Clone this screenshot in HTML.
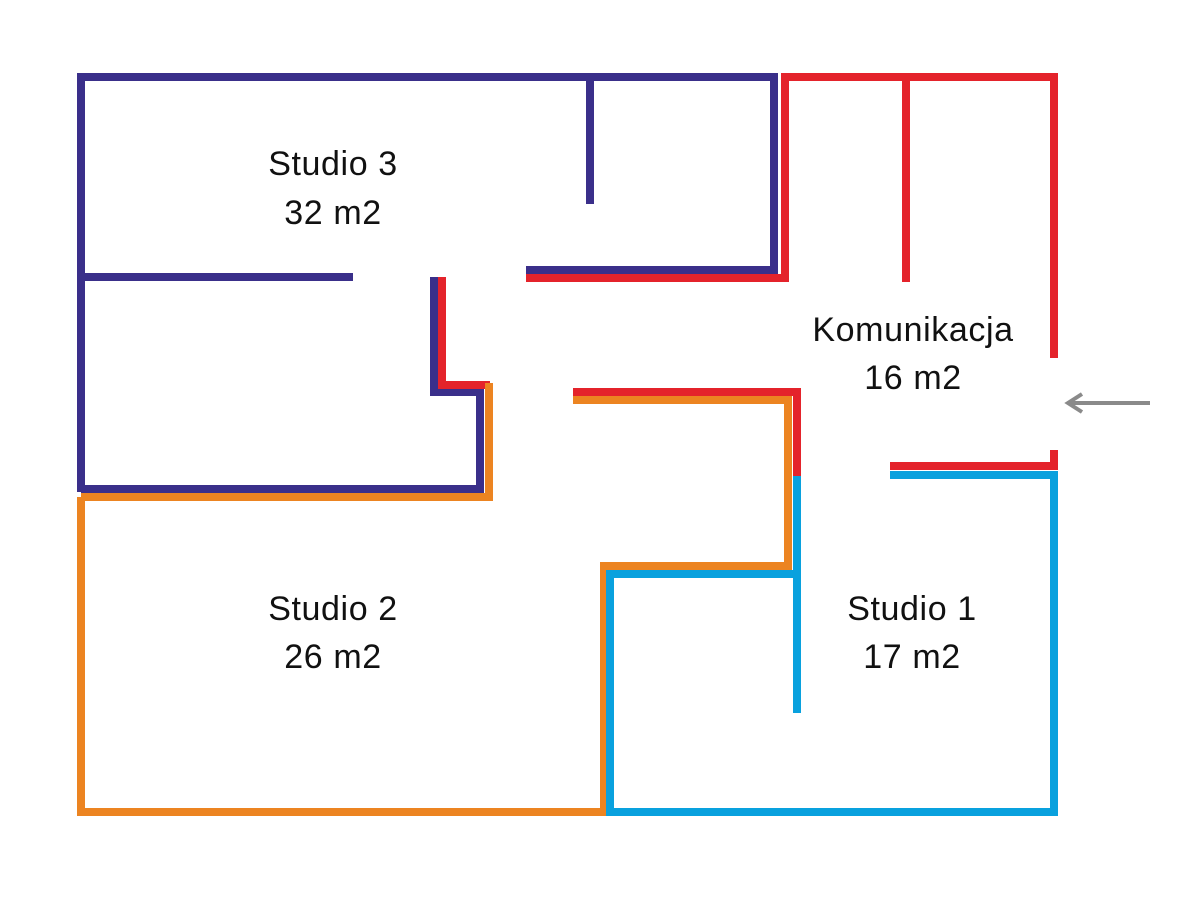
<!DOCTYPE html>
<html><head><meta charset="utf-8"><style>
html,body{margin:0;padding:0;background:#fff;width:1200px;height:900px;overflow:hidden}
text{font-family:"Liberation Sans",sans-serif;font-size:34px;letter-spacing:0.6px;fill:#111;text-anchor:middle}
</style></head><body>
<svg width="1200" height="900" viewBox="0 0 1200 900" xmlns="http://www.w3.org/2000/svg">
<g fill="none" stroke-width="8" stroke-linecap="butt" stroke-linejoin="miter">
<g stroke="#3a2f8a">
<path d="M81 492 V77 H774 V270 H526"/>
<path d="M590 77 V204"/>
<path d="M81 277 H353"/>
<path d="M434 277 V392 H480 V489 H81"/>
</g>
<g stroke="#e4232b">
<path d="M526 278 H785 V77 H1054 V358"/>
<path d="M906 77 V282"/>
<path d="M442 277 V385 H490"/>
<path d="M573 392 H797 V476"/>
<path d="M890 466 H1054 V450"/>
</g>
<g stroke="#ec8421">
<path d="M81 497 V812 H604 V566 H788 V400 H573"/>
<path d="M81 497 H489 V383"/>
</g>
<g stroke="#09a1de">
<path d="M890 475 H1054 V812 H610 V574 H797"/>
<path d="M797 476 V713"/>
</g>
<g stroke="#8a8a8a" stroke-width="4">
<path d="M1068 403 H1150"/>
<path d="M1082 394 L1068 403 L1082 412"/>
</g>
</g>
<text x="333" y="175">Studio 3</text>
<text x="333" y="224">32 m2</text>
<text x="913" y="341">Komunikacja</text>
<text x="913" y="389">16 m2</text>
<text x="333" y="620">Studio 2</text>
<text x="333" y="668">26 m2</text>
<text x="912" y="620">Studio 1</text>
<text x="912" y="668">17 m2</text>
</svg>
</body></html>
